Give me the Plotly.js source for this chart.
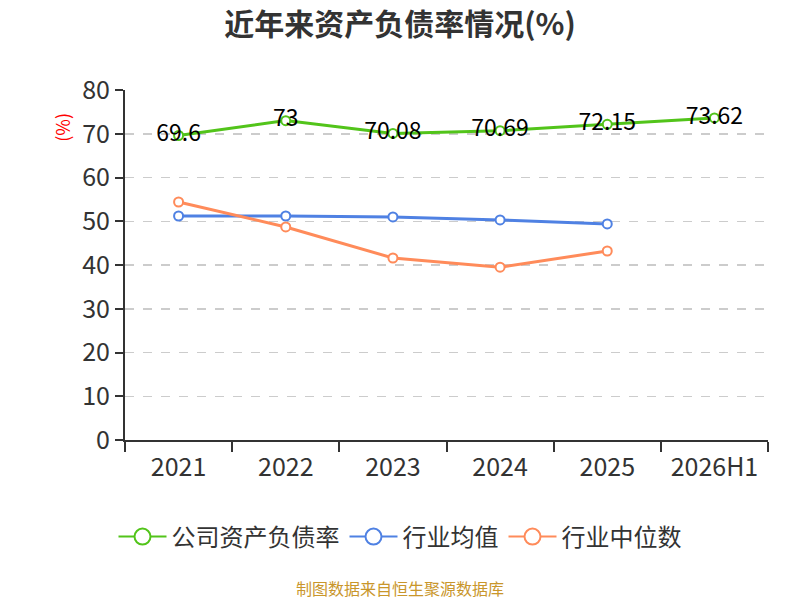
<!DOCTYPE html>
<html>
<head>
<meta charset="utf-8">
<script src="https://cdn.plot.ly/plotly-3.0.1.min.js"></script>
<style>
  body { margin: 0; background: #fff; }
  #chart { width: 800px; height: 600px; }
</style>
</head>
<body>
<div id="chart"></div>
<script>
const years = ["2021", "2022", "2023", "2024", "2025", "2026H1"];
const companyRate = [69.6, 73, 70.08, 70.69, 72.15, 73.62];
const industryAvg = [51.2, 51.2, 51.0, 50.3, 49.4];
const industryMedian = [54.4, 48.7, 41.6, 39.5, 43.2];

const font = "Noto Sans CJK SC, Noto Sans, sans-serif";

function series(name, y, color, withText) {
  return {
    x: years.slice(0, y.length),
    y: y,
    name: name,
    type: "scatter",
    mode: withText ? "lines+markers+text" : "lines+markers",
    text: withText ? y.map(String) : undefined,
    textposition: "middle center",
    textfont: { family: font, size: 23, color: "#000" },
    line: { color: color, width: 3 },
    marker: {
      symbol: "circle",
      size: 9,
      color: "#fff",
      line: { color: color, width: 2 },
    },
    cliponaxis: false,
    showlegend: false,
    hoverinfo: "x+y",
  };
}

// legend-only entries so the legend circles can be drawn larger
function legendEntry(name, color) {
  return {
    x: [null],
    y: [null],
    name: name,
    type: "scatter",
    mode: "lines+markers",
    line: { color: color, width: 2 },
    marker: { symbol: "circle", size: 16, color: "#fff", line: { color: color, width: 2 } },
    showlegend: true,
  };
}

const colors = ["#52c41a", "#4f81e3", "#ff8b5a"];
const names = ["公司资产负债率", "行业均值", "行业中位数"];

const data = [
  series(names[0], companyRate, colors[0], true),
  series(names[1], industryAvg, colors[1], false),
  series(names[2], industryMedian, colors[2], false),
  legendEntry(names[0], colors[0]),
  legendEntry(names[1], colors[1]),
  legendEntry(names[2], colors[2]),
];

const layout = {
  width: 800,
  height: 600,
  margin: { l: 125, r: 32, t: 90, b: 160 },
  paper_bgcolor: "#fff",
  plot_bgcolor: "#fff",
  font: { family: font, color: "#333" },
  showlegend: true,
  title: {
    text: "<b>近年来资产负债率情况(%)</b>",
    font: { family: font, size: 30, color: "#333" },
    x: 0.5,
    xanchor: "center",
    xref: "container",
    y: 1 - 24 / 600,
    yanchor: "middle",
    yref: "container",
  },
  xaxis: {
    type: "category",
    range: [-0.5, 5.5],
    tickson: "boundaries",
    ticks: "outside",
    ticklen: 10,
    tickwidth: 2,
    tickcolor: "#333",
    showline: true,
    linecolor: "#333",
    linewidth: 2,
    showgrid: false,
    ticklabelstandoff: 4,
    tickfont: { family: font, size: 25, color: "#333" },
    fixedrange: true,
  },
  yaxis: {
    range: [0, 80],
    dtick: 10,
    ticks: "outside",
    ticklen: 8,
    tickwidth: 2,
    tickcolor: "#333",
    showline: true,
    linecolor: "#333",
    linewidth: 2,
    showgrid: true,
    gridcolor: "#cccccc",
    gridwidth: 1.5,
    griddash: "dash",
    zeroline: false,
    tickfont: { family: font, size: 25, color: "#333" },
    fixedrange: true,
  },
  legend: {
    orientation: "h",
    xref: "container",
    yref: "container",
    x: 0.5,
    xanchor: "center",
    y: 1 - 537 / 600,
    yanchor: "middle",
    itemwidth: 48,
    font: { family: font, size: 24, color: "#333" },
  },
  annotations: [
    {
      text: "(%)",
      xref: "paper",
      yref: "paper",
      x: -0.098,
      y: 0.895,
      xanchor: "center",
      yanchor: "middle",
      textangle: -90,
      showarrow: false,
      font: { family: font, size: 18, color: "#ff0000" },
    },
    {
      text: "制图数据来自恒生聚源数据库",
      xref: "paper",
      yref: "paper",
      x: (400 - 125) / 643,
      y: (440 - 588) / 350,
      xanchor: "center",
      yanchor: "middle",
      showarrow: false,
      font: { family: font, size: 16, color: "#c9962b" },
    },
  ],
};

Plotly.newPlot("chart", data, layout, { displayModeBar: false, staticPlot: true });
</script>
</body>
</html>
